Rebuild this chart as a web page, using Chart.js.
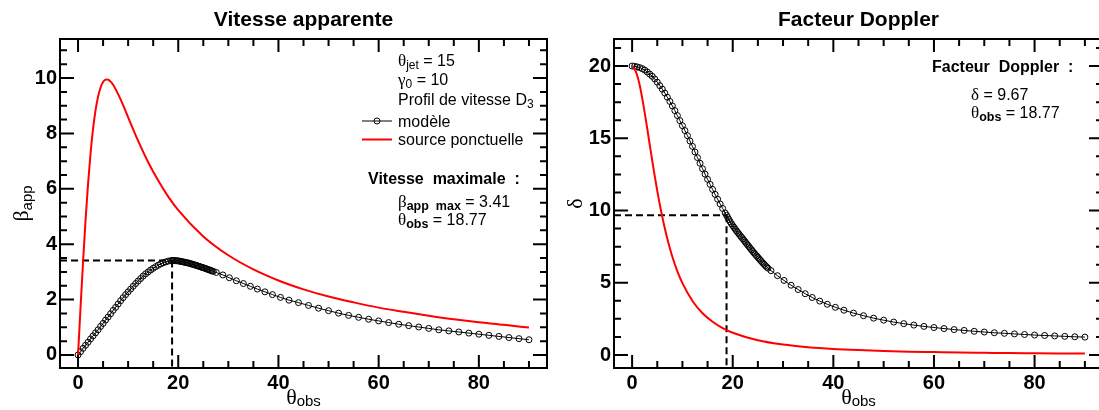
<!DOCTYPE html>
<html>
<head>
<meta charset="utf-8">
<script src="https://cdn.jsdelivr.net/npm/chart.js@4.4.0/dist/chart.umd.min.js"></script>
<style>
    html, body { margin: 0; padding: 0; background: #fff; overflow: hidden; }
    #wrap { position: relative; width: 1099px; height: 410px; overflow: hidden; }
    canvas { position: absolute; top: 0; }
    #leftChart { left: 0; }
    #rightChart { left: 549px; }
</style>
</head>
<body>
<div id="wrap">
    <canvas id="rightChart" width="560" height="410"></canvas>
    <canvas id="leftChart" width="552" height="410"></canvas>
</div>
<script>
// angles d'observation du modèle (degrés)
const thetaModel = [
    0, 0.5, 1, 1.5, 2, 2.5, 3, 3.5, 4, 4.5, 5, 5.5, 6, 6.5, 7, 7.5, 8, 8.5, 9, 9.5,
    10, 10.5, 11, 11.5, 12, 12.5, 13, 13.5, 14, 14.5, 15, 15.5, 16, 16.5, 17, 17.5, 18, 18.5,
    18.77, 19, 19.25, 19.5, 19.75, 20, 20.25, 20.5, 20.75, 21, 21.25, 21.5, 21.75, 22, 22.25, 22.5, 22.75,
    23, 23.25, 23.5, 23.75, 24, 24.25, 24.5, 24.75, 25, 25.25, 25.5, 25.75, 26, 26.25, 26.5, 26.75, 27,
    27.6, 28.9, 30.2, 31.6, 33, 34.4, 35.8, 37.3, 38.8, 40.4, 42.1, 44,
    46, 48, 50, 52, 54, 56, 58, 60, 62, 64, 66, 68, 70, 72, 74, 76, 78, 80, 82, 84, 86, 88, 90
];
// vitesse apparente du modèle
const betaModel = [
    0, 0.12, 0.24, 0.35, 0.46, 0.58, 0.69, 0.80, 0.91, 1.03, 1.14, 1.26, 1.37, 1.49, 1.61, 1.72, 1.84, 1.96, 2.07, 2.18,
    2.28, 2.38, 2.48, 2.58, 2.67, 2.76, 2.85, 2.93, 3.00, 3.07, 3.13, 3.19, 3.24, 3.29, 3.33, 3.36, 3.39, 3.405,
    3.41, 3.41, 3.41, 3.405, 3.40, 3.395, 3.39, 3.38, 3.37, 3.36, 3.35, 3.34, 3.33, 3.32, 3.31, 3.295, 3.28,
    3.27, 3.255, 3.24, 3.225, 3.21, 3.195, 3.18, 3.165, 3.15, 3.135, 3.12, 3.10, 3.085, 3.07, 3.05, 3.035, 3.02,
    2.98, 2.89, 2.79, 2.68, 2.58, 2.48, 2.38, 2.28, 2.18, 2.08, 1.98, 1.89,
    1.79, 1.69, 1.60, 1.51, 1.43, 1.36, 1.29, 1.23, 1.17, 1.11, 1.06, 1.01, 0.96, 0.91, 0.87, 0.83, 0.79, 0.75, 0.71, 0.67, 0.63, 0.59, 0.55
];
// facteur Doppler du modèle
const dopplerModel = [
    20.00, 19.98, 19.94, 19.89, 19.82, 19.72, 19.59, 19.44, 19.29, 19.10, 18.88, 18.64, 18.40, 18.13, 17.84, 17.55, 17.24, 16.91, 16.57, 16.22,
    15.87, 15.53, 15.18, 14.81, 14.44, 14.05, 13.66, 13.27, 12.89, 12.52, 12.16, 11.81, 11.46, 11.12, 10.78, 10.45, 10.14, 9.83,
    9.67, 9.52, 9.37, 9.22, 9.08, 8.95, 8.83, 8.71, 8.59, 8.48, 8.37, 8.26, 8.15, 8.04, 7.93, 7.82, 7.71,
    7.60, 7.49, 7.38, 7.27, 7.16, 7.06, 6.96, 6.86, 6.76, 6.66, 6.56, 6.46, 6.36, 6.27, 6.18, 6.09, 6.01,
    5.84, 5.49, 5.16, 4.83, 4.53, 4.24, 3.98, 3.73, 3.51, 3.30, 3.10, 2.90,
    2.72, 2.55, 2.41, 2.28, 2.17, 2.07, 1.98, 1.90, 1.83, 1.76, 1.70, 1.64, 1.59, 1.54, 1.50, 1.46, 1.42, 1.38, 1.35, 1.32, 1.29, 1.26, 1.24
];

// source ponctuelle
const thetaPoint = [0, 0.5, 1, 1.5, 2, 2.5, 3, 3.5, 4, 4.5, 5, 5.5, 5.75, 6, 6.5, 7, 8, 9, 10, 12, 14, 16, 18, 20,
    25, 30, 35, 40, 45, 50, 55, 60, 65, 70, 75, 80, 85, 90];
const betaPoint = [0, 1.72, 3.36, 4.87, 6.18, 7.28, 8.17, 8.84, 9.33, 9.66, 9.86, 9.94, 9.95, 9.94, 9.87, 9.76, 9.42, 9.02, 8.58, 7.73, 6.96, 6.30, 5.72, 5.23,
    4.28, 3.60, 3.09, 2.69, 2.37, 2.11, 1.90, 1.71, 1.56, 1.42, 1.29, 1.18, 1.09, 0.99];
const dopplerPoint = [19.95, 19.80, 19.36, 18.68, 17.80, 16.78, 15.68, 14.56, 13.45, 12.38, 11.36, 10.42, 9.98, 9.56, 8.77, 8.05, 6.80, 5.79, 4.97, 3.74, 2.89, 2.30, 1.86, 1.54,
    1.02, 0.72, 0.54, 0.42, 0.34, 0.28, 0.23, 0.20, 0.17, 0.15, 0.13, 0.12, 0.11, 0.10];

const xTicks = [0, 20, 40, 60, 80];
const betaTicks = [0, 2, 4, 6, 8, 10];
const dopplerTicks = [0, 5, 10, 15, 20];

const thetaMax = 18.77;
const betaMax = 3.41;
const deltaMax = 9.67;

const SANS = '"Liberation Sans", Arial, Helvetica, sans-serif';
const GREEK = '"Liberation Serif", "Times New Roman", serif';

function toPoints(xs, ys) {
    return xs.map((x, i) => ({ x: x, y: ys[i] }));
}

// texte avec indices : [texte, police, décalage]
function drawText(ctx, x, y, parts, align) {
    let w = 0;
    parts.forEach(p => { ctx.font = p[1]; w += ctx.measureText(p[0]).width; });
    let cx = align === 'center' ? x - w / 2 : (align === 'right' ? x - w : x);
    ctx.textAlign = 'left';
    ctx.textBaseline = 'alphabetic';
    ctx.fillStyle = '#000';
    parts.forEach(p => {
        ctx.font = p[1];
        ctx.fillText(p[0], cx, y + (p[2] || 0));
        cx += ctx.measureText(p[0]).width;
    });
}

// cadre + graduations intérieures façon ROOT, et lignes pointillées
const rootFrame = {
    id: 'rootFrame',
    beforeDatasetsDraw(chart, args, opts) {
        const { ctx, chartArea: a, scales: { x, y } } = chart;
        const px = x.getPixelForValue(opts.markX);
        const py = y.getPixelForValue(opts.markY);
        ctx.save();
        ctx.strokeStyle = '#000';
        ctx.lineWidth = 2;
        ctx.setLineDash([7, 4]);
        ctx.beginPath();
        ctx.moveTo(a.left, py);
        ctx.lineTo(px, py);
        ctx.moveTo(px, py);
        ctx.lineTo(px, a.bottom);
        ctx.stroke();
        ctx.restore();
    },
    afterDatasetsDraw(chart, args, opts) {
        const { ctx, chartArea: a, scales: { x, y } } = chart;
        ctx.save();
        ctx.strokeStyle = '#000';
        ctx.lineWidth = 2;
        ctx.beginPath();
        for (let v = Math.ceil(x.min / opts.xMinor) * opts.xMinor; v <= x.max; v += opts.xMinor) {
            const p = x.getPixelForValue(v);
            const len = Math.abs(v % opts.xMajor) < 1e-9 ? 13 : 7;
            ctx.moveTo(p, a.bottom); ctx.lineTo(p, a.bottom - len);
            ctx.moveTo(p, a.top); ctx.lineTo(p, a.top + len);
        }
        for (let v = Math.ceil(y.min / opts.yMinor) * opts.yMinor; v <= y.max; v += opts.yMinor) {
            const p = y.getPixelForValue(v);
            const len = Math.abs(v % opts.yMajor) < 1e-9 ? 14 : 7;
            ctx.moveTo(a.left, p); ctx.lineTo(a.left + len, p);
            ctx.moveTo(a.right, p); ctx.lineTo(a.right - len, p);
        }
        ctx.stroke();
        ctx.strokeRect(a.left, a.top, a.right - a.left, a.bottom - a.top);
        ctx.restore();
    }
};

function axis(min, max, ticks, fit) {
    return {
        type: 'linear',
        min: min,
        max: max,
        afterBuildTicks: s => { s.ticks = ticks.map(v => ({ value: v })); },
        afterFit: fit,
        grid: { display: false, drawTicks: false },
        border: { display: false },
        ticks: {
            color: '#000',
            padding: 3,
            maxRotation: 0,
            autoSkip: false,
            font: { family: SANS, size: 20, weight: 'bold' }
        }
    };
}

// 1. Vitesse apparente
new Chart(document.getElementById('leftChart').getContext('2d'), {
    type: 'line',
    data: {
        datasets: [
            {
                label: 'source ponctuelle',
                data: toPoints(thetaPoint, betaPoint),
                borderColor: '#ff0000',
                borderWidth: 2,
                pointRadius: 0,
                cubicInterpolationMode: 'monotone',
                order: 0
            },
            {
                label: 'modèle',
                data: toPoints(thetaModel, betaModel),
                borderColor: '#000',
                borderWidth: 1,
                pointRadius: 3,
                pointBorderWidth: 1,
                pointBorderColor: '#000',
                pointBackgroundColor: 'rgba(0,0,0,0)',
                order: 1
            }
        ]
    },
    options: {
        responsive: false,
        animation: false,
        events: [],
        layout: { padding: { top: 39, right: 3, bottom: 0, left: 0 } },
        scales: {
            x: axis(-3.6, 93.6, xTicks, s => { s.height = 42; }),
            y: axis(-0.47, 11.41, betaTicks, s => { s.width = 60; })
        },
        plugins: {
            legend: { display: false },
            tooltip: { enabled: false },
            rootFrame: { markX: thetaMax, markY: betaMax, xMinor: 5, xMajor: 20, yMinor: 0.5, yMajor: 2 }
        }
    },
    plugins: [rootFrame, {
        id: 'textesGauche',
        afterDraw(chart) {
            const { ctx, chartArea: a } = chart;
            const cx = (a.left + a.right) / 2;
            ctx.save();
            drawText(ctx, cx, 26, [['Vitesse apparente', `bold 21px ${SANS}`]], 'center');
            drawText(ctx, cx, 404, [['θ', `22px ${GREEK}`], ['obs', `15px ${SANS}`, 2]], 'center');
            ctx.save();
            ctx.translate(28, (a.top + a.bottom) / 2);
            ctx.rotate(-Math.PI / 2);
            drawText(ctx, 0, 0, [['β', `22px ${GREEK}`], ['app', `15px ${SANS}`, 4]], 'center');
            ctx.restore();

            drawText(ctx, 398, 65.5, [['θ', `17px ${GREEK}`], ['jet', `12px ${SANS}`, 3], [' = 15', `16px ${SANS}`]]);
            drawText(ctx, 398, 85, [['γ', `17px ${GREEK}`], ['0', `12px ${SANS}`, 3], [' = 10', `16px ${SANS}`]]);
            drawText(ctx, 398, 105, [['Profil de vitesse D', `16px ${SANS}`], ['3', `12px ${SANS}`, 3]]);

            // légende
            ctx.strokeStyle = '#000';
            ctx.lineWidth = 1;
            ctx.beginPath();
            ctx.moveTo(362, 121); ctx.lineTo(392, 121);
            ctx.stroke();
            ctx.beginPath();
            ctx.arc(377, 121, 3, 0, Math.PI * 2);
            ctx.stroke();
            drawText(ctx, 398, 126.5, [['modèle', `16px ${SANS}`]]);
            ctx.strokeStyle = '#ff0000';
            ctx.lineWidth = 2;
            ctx.beginPath();
            ctx.moveTo(362, 139.5); ctx.lineTo(392, 139.5);
            ctx.stroke();
            drawText(ctx, 398, 144.5, [['source ponctuelle', `16px ${SANS}`]]);

            drawText(ctx, 368, 183.5, [['Vitesse  maximale  :', `bold 16px ${SANS}`]]);
            drawText(ctx, 398, 207, [['β', `17px ${GREEK}`], ['app  max', `bold 12.5px ${SANS}`, 3], [' = ' + betaMax.toFixed(2), `16px ${SANS}`]]);
            drawText(ctx, 398, 225, [['θ', `17px ${GREEK}`], ['obs', `bold 12.5px ${SANS}`, 3], [' = ' + thetaMax.toFixed(2), `16px ${SANS}`]]);
            ctx.restore();
        }
    }]
});

// 2. Facteur Doppler
new Chart(document.getElementById('rightChart').getContext('2d'), {
    type: 'line',
    data: {
        datasets: [
            {
                label: 'source ponctuelle',
                data: toPoints(thetaPoint, dopplerPoint),
                borderColor: '#ff0000',
                borderWidth: 2,
                pointRadius: 0,
                cubicInterpolationMode: 'monotone',
                order: 0
            },
            {
                label: 'modèle',
                data: toPoints(thetaModel, dopplerModel),
                borderColor: '#000',
                borderWidth: 1,
                pointRadius: 3,
                pointBorderWidth: 1,
                pointBorderColor: '#000',
                pointBackgroundColor: 'rgba(0,0,0,0)',
                order: 1
            }
        ]
    },
    options: {
        responsive: false,
        animation: false,
        events: [],
        layout: { padding: { top: 39, right: 6, bottom: 0, left: 0 } },
        scales: {
            x: axis(-3.6, 93.6, xTicks, s => { s.height = 42; }),
            y: axis(-0.9, 21.87, dopplerTicks, s => { s.width = 65; })
        },
        plugins: {
            legend: { display: false },
            tooltip: { enabled: false },
            rootFrame: { markX: thetaMax, markY: deltaMax, xMinor: 5, xMajor: 20, yMinor: 1.25, yMajor: 5 }
        }
    },
    plugins: [rootFrame, {
        id: 'textesDroite',
        afterDraw(chart) {
            const { ctx, chartArea: a } = chart;
            const cx = (a.left + a.right) / 2;
            ctx.save();
            drawText(ctx, cx, 26, [['Facteur Doppler', `bold 21px ${SANS}`]], 'center');
            drawText(ctx, cx, 404, [['θ', `22px ${GREEK}`], ['obs', `15px ${SANS}`, 2]], 'center');
            ctx.save();
            ctx.translate(33, (a.top + a.bottom) / 2);
            ctx.rotate(-Math.PI / 2);
            drawText(ctx, 0, 0, [['δ', `22px ${GREEK}`]], 'center');
            ctx.restore();

            drawText(ctx, 383, 71.5, [['Facteur  Doppler  :', `bold 16px ${SANS}`]]);
            drawText(ctx, 422, 100, [['δ', `17px ${GREEK}`], [' = ' + deltaMax.toFixed(2), `16px ${SANS}`]]);
            drawText(ctx, 422, 118, [['θ', `17px ${GREEK}`], ['obs', `bold 12.5px ${SANS}`, 3], [' = ' + thetaMax.toFixed(2), `16px ${SANS}`]]);
            ctx.restore();
        }
    }]
});
</script>
</body>
</html>
